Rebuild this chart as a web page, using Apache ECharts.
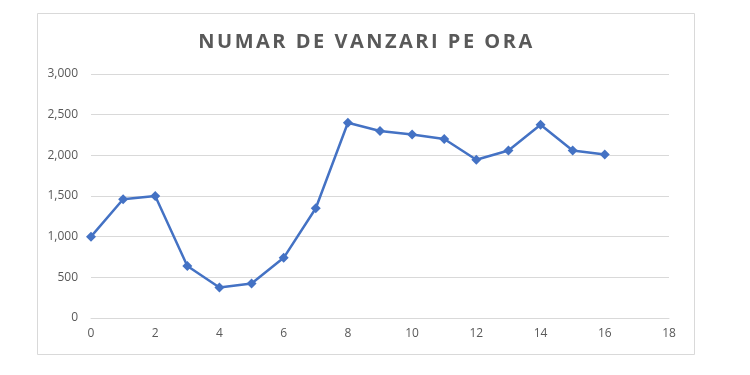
<!DOCTYPE html>
<html>
<head>
<meta charset="utf-8">
<script src="https://cdn.jsdelivr.net/npm/echarts@6/dist/echarts.min.js"></script>
<style>
html, body { margin: 0; padding: 0; background: #fff; }
#wrap { position: relative; width: 750px; height: 375px; }
#main { width: 750px; height: 375px; }
#title {
    position: absolute; left: 38px; top: 27px; width: 657px;
    text-align: center; font-family: 'Open Sans'; font-size: 20px;
    font-weight: bold; letter-spacing: 2.5px; color: #595959;
    line-height: 28px; pointer-events: none;
}
</style>
</head>
<body>
<div id="wrap">
<div id="main"></div>
<div id="title">NUMAR DE VANZARI PE ORA</div>
</div>
<script type="text/javascript">
// ore (x) si vanzari (y)
var hours = [0, 1, 2, 3, 4, 5, 6, 7, 8, 9, 10, 11, 12, 13, 14, 15, 16];
var sales = [1000, 1460, 1500, 640, 375, 425, 740, 1350, 2400, 2300, 2255, 2200, 1945, 2060, 2375, 2060, 2010];

var points = hours.map(function (h, i) { return [h, sales[i]]; });

var myChart = echarts.init(document.getElementById('main'));
var option = {
    backgroundColor: '#fff',
    animation: false,
    graphic: [{
        type: 'rect',
        shape: { x: 37.5, y: 13.5, width: 657, height: 341 },
        style: { fill: 'none', stroke: '#d9d9d9', lineWidth: 1 },
        silent: true
    }],
    grid: { left: 91, right: 81, top: 74, bottom: 57 },
    xAxis: {
        type: 'value',
        min: 0,
        max: 18,
        interval: 2,
        axisLine: { show: true, lineStyle: { color: '#d9d9d9' } },
        axisTick: { show: false },
        splitLine: { show: false },
        axisLabel: { color: '#595959', fontSize: 12, fontFamily: 'Open Sans', margin: 10 }
    },
    yAxis: {
        type: 'value',
        min: 0,
        max: 3000,
        interval: 500,
        axisLine: { show: false },
        axisTick: { show: false },
        splitLine: { lineStyle: { color: '#d9d9d9' } },
        axisLabel: {
            color: '#595959', fontSize: 12, fontFamily: 'Open Sans', margin: 13,
            formatter: function (v) { return v.toLocaleString('en-US'); }
        }
    },
    series: [{
        type: 'line',
        data: points,
        symbol: 'diamond',
        symbolSize: 10,
        lineStyle: { color: '#4472C4', width: 2.5 },
        itemStyle: { color: '#4472C4' }
    }]
};
myChart.setOption(option);
</script>
</body>
</html>
